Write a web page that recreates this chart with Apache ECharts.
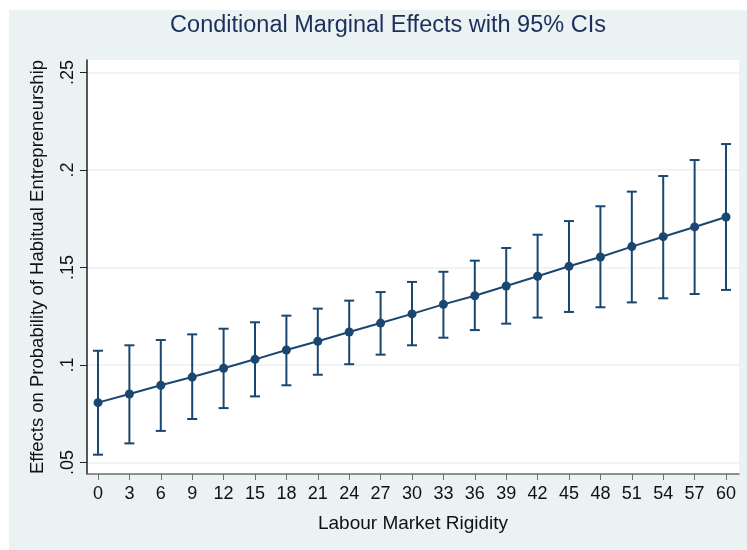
<!DOCTYPE html>
<html>
<head>
<meta charset="utf-8">
<script src="https://cdn.jsdelivr.net/npm/echarts@6/dist/echarts.min.js"></script>
<style>
    html, body { margin: 0; padding: 0; background: #ffffff; }
    #chart { position: absolute; left: 9px; top: 10px; width: 738px; height: 540px; }
</style>
</head>
<body>
<div id="chart"></div>
<script>
// labour market rigidity values
var rigidity = [0, 3, 6, 9, 12, 15, 18, 21, 24, 27, 30, 33, 36, 39, 42, 45, 48, 51, 54, 57, 60]
// marginal effects with 95% ci bounds
var effect = [0.0807, 0.0851, 0.0896, 0.0938, 0.0983, 0.1029, 0.1077, 0.1122, 0.1169, 0.1215, 0.1262,
    0.1311, 0.1355, 0.1405, 0.1455, 0.1506, 0.1554, 0.1607, 0.1658, 0.1708, 0.1759]
var ciUpper = [0.1073, 0.1101, 0.1128, 0.1157, 0.1186, 0.1219, 0.1253, 0.1289, 0.1330, 0.1374, 0.1426,
    0.1478, 0.1535, 0.1600, 0.1668, 0.1738, 0.1814, 0.1889, 0.1969, 0.2051, 0.2133]
var ciLower = [0.0540, 0.0598, 0.0662, 0.0723, 0.0779, 0.0839, 0.0896, 0.0950, 0.1004, 0.1053, 0.1101,
    0.1140, 0.1179, 0.1212, 0.1243, 0.1272, 0.1296, 0.1321, 0.1342, 0.1364, 0.1385]
var yTicks = [0.05, 0.1, 0.15, 0.2, 0.25]

var navy = '#1a476f'
var font = 'Liberation Sans, Arial, sans-serif'

var linePts = [], ciPts = []
for ( var i = 0; i < rigidity.length; i++ ) {
    linePts.push( [rigidity[i], effect[i]] )
    ciPts.push( [rigidity[i], ciLower[i], ciUpper[i]] )
}

var chart = echarts.init( document.getElementById( 'chart' ) )
chart.setOption( {
    animation: false,
    backgroundColor: '#eaf2f3',
    title: {
        text: 'Conditional Marginal Effects with 95% CIs',
        left: 374,
        textAlign: 'center',
        top: -1,
        textStyle: { color: '#1c2e5a', fontSize: 23.5, fontWeight: 'normal', fontFamily: font }
    },
    grid: {
        left: 78, top: 50, right: 8, bottom: 76,
        show: true, backgroundColor: '#ffffff', borderWidth: 0
    },
    xAxis: {
        type: 'value',
        min: -1.05,
        max: 61.24,
        name: 'Labour Market Rigidity',
        nameLocation: 'middle',
        nameGap: 40,
        nameTextStyle: { color: '#111', fontSize: 19, fontFamily: font },
        axisLine: { show: true, onZero: false, lineStyle: { color: '#6e6e6e', width: 1.5 } },
        axisTick: { show: true, length: 6, customValues: rigidity, lineStyle: { color: '#6e6e6e' } },
        axisLabel: {
            customValues: rigidity,
            color: '#111', fontSize: 18, fontFamily: font, margin: 11,
            formatter: function ( v ) { return String( v ) }
        },
        splitLine: { show: false }
    },
    yAxis: {
        type: 'value',
        min: 0.0441,
        max: 0.2564,
        name: 'Effects on Probability of Habitual Entrepreneurship',
        nameLocation: 'middle',
        nameGap: 40,
        nameTextStyle: { color: '#111', fontSize: 18.5, fontFamily: font },
        axisLine: { show: true, onZero: false, lineStyle: { color: '#222', width: 1.5 } },
        axisTick: { show: true, length: 7, customValues: yTicks, lineStyle: { color: '#222' } },
        axisLabel: {
            customValues: yTicks,
            rotate: 90,
            color: '#111', fontSize: 18, fontFamily: font, margin: 10,
            formatter: function ( v ) { return String( +v.toFixed( 2 ) ).replace( /^0/, '' ) }
        },
        splitLine: { show: true, lineStyle: { color: '#eaf2f3', width: 1.5 } }
    },
    series: [{
        name: 'ci',
        type: 'custom',
        data: ciPts,
        z: 2,
        renderItem: function ( params, api ) {
            var x = api.value( 0 )
            var lo = api.coord( [x, api.value( 1 )] )
            var hi = api.coord( [x, api.value( 2 )] )
            var half = 5
            var st = { stroke: navy, lineWidth: 2 }
            return {
                type: 'group',
                children: [
                    { type: 'line', shape: { x1: lo[0], y1: lo[1], x2: hi[0], y2: hi[1] }, style: st },
                    { type: 'line', shape: { x1: lo[0] - half, y1: lo[1], x2: lo[0] + half, y2: lo[1] }, style: st },
                    { type: 'line', shape: { x1: hi[0] - half, y1: hi[1], x2: hi[0] + half, y2: hi[1] }, style: st }
                ]
            }
        }
    }, {
        name: 'effect',
        type: 'line',
        data: linePts,
        z: 3,
        symbol: 'circle',
        symbolSize: 9,
        lineStyle: { color: navy, width: 2 },
        itemStyle: { color: navy }
    }]
} )
</script>
</body>
</html>
